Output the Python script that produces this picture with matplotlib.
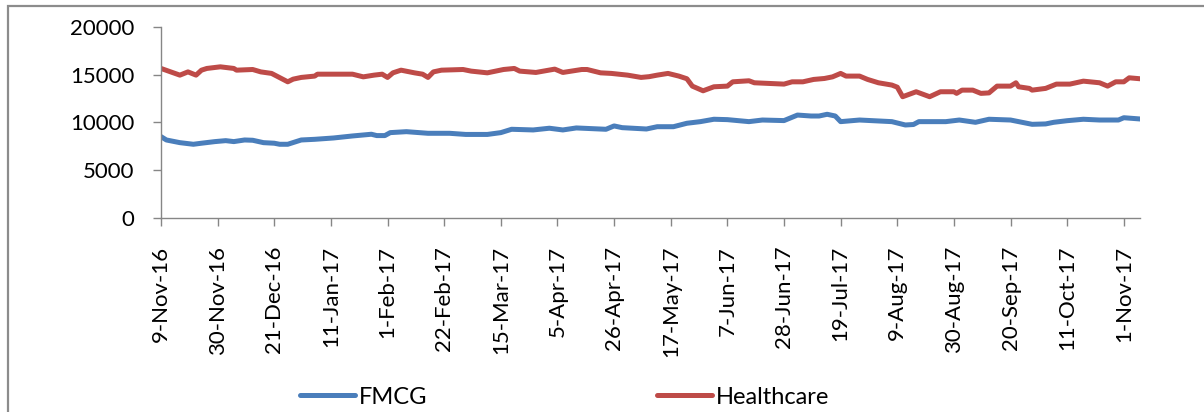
import matplotlib
matplotlib.use("Agg")
import matplotlib.pyplot as plt
import matplotlib.dates as mdates
from matplotlib.patches import Rectangle
import pandas as pd

# Healthcare index
hc_dates = ['2016-11-09', '2016-11-16', '2016-11-19', '2016-11-22', '2016-11-24', '2016-11-26',
            '2016-12-01', '2016-12-06', '2016-12-07', '2016-12-13', '2016-12-16', '2016-12-20',
            '2016-12-26', '2016-12-28', '2016-12-31', '2017-01-05', '2017-01-06', '2017-01-12',
            '2017-01-19', '2017-01-23', '2017-01-27', '2017-01-30', '2017-02-01', '2017-02-03',
            '2017-02-06', '2017-02-11', '2017-02-14', '2017-02-16', '2017-02-18', '2017-02-21',
            '2017-03-01', '2017-03-04', '2017-03-10', '2017-03-16', '2017-03-20', '2017-03-22',
            '2017-03-28', '2017-04-04', '2017-04-07', '2017-04-14', '2017-04-16', '2017-04-21',
            '2017-04-25', '2017-05-01', '2017-05-06', '2017-05-09', '2017-05-12', '2017-05-16',
            '2017-05-20', '2017-05-23', '2017-05-25', '2017-05-29', '2017-06-02', '2017-06-07',
            '2017-06-09', '2017-06-15', '2017-06-17', '2017-06-28', '2017-07-01', '2017-07-05',
            '2017-07-09', '2017-07-13', '2017-07-16', '2017-07-19', '2017-07-21', '2017-07-26',
            '2017-07-29', '2017-08-02', '2017-08-07', '2017-08-09', '2017-08-11', '2017-08-16',
            '2017-08-21', '2017-08-25', '2017-08-30', '2017-08-31', '2017-09-02', '2017-09-06',
            '2017-09-09', '2017-09-12', '2017-09-15', '2017-09-20', '2017-09-22', '2017-09-23',
            '2017-09-27', '2017-09-28', '2017-10-03', '2017-10-07', '2017-10-12', '2017-10-17',
            '2017-10-23', '2017-10-26', '2017-10-29', '2017-11-01', '2017-11-03', '2017-11-07']
hc_values = [15660, 14960, 15300, 14960, 15480, 15660,
             15830, 15660, 15480, 15550, 15300, 15140,
             14260, 14540, 14720, 14860, 15060, 15060,
             15060, 14780, 14960, 15060, 14720, 15200,
             15480, 15200, 15060, 14720, 15300, 15480,
             15550, 15380, 15200, 15550, 15660, 15380,
             15240, 15590, 15240, 15550, 15550, 15200,
             15140, 14960, 14720, 14800, 14960, 15140,
             14860, 14580, 13810, 13320, 13740, 13810,
             14260, 14370, 14160, 14020, 14260, 14260,
             14510, 14610, 14780, 15140, 14860, 14860,
             14510, 14160, 13920, 13700, 12700, 13220,
             12700, 13220, 13220, 13050, 13390, 13390,
             13050, 13100, 13810, 13810, 14160, 13740,
             13570, 13390, 13570, 14020, 14020, 14330,
             14160, 13810, 14260, 14260, 14680, 14580]

# FMCG index
fmcg_dates = ['2016-11-09', '2016-11-11', '2016-11-16', '2016-11-21', '2016-11-24', '2016-11-29',
              '2016-12-03', '2016-12-06', '2016-12-10', '2016-12-13', '2016-12-17', '2016-12-21',
              '2016-12-23', '2016-12-26', '2016-12-31', '2017-01-05', '2017-01-12', '2017-01-19',
              '2017-01-26', '2017-01-28', '2017-01-31', '2017-02-02', '2017-02-08', '2017-02-16',
              '2017-02-24', '2017-03-02', '2017-03-10', '2017-03-15', '2017-03-19', '2017-03-27',
              '2017-04-02', '2017-04-07', '2017-04-12', '2017-04-23', '2017-04-26', '2017-04-29',
              '2017-05-08', '2017-05-12', '2017-05-18', '2017-05-23', '2017-05-28', '2017-06-02',
              '2017-06-07', '2017-06-15', '2017-06-20', '2017-06-28', '2017-07-03', '2017-07-08',
              '2017-07-11', '2017-07-14', '2017-07-17', '2017-07-19', '2017-07-26', '2017-08-07',
              '2017-08-12', '2017-08-15', '2017-08-17', '2017-08-27', '2017-09-01', '2017-09-07',
              '2017-09-12', '2017-09-20', '2017-09-28', '2017-10-03', '2017-10-06', '2017-10-11',
              '2017-10-17', '2017-10-23', '2017-10-30', '2017-11-01', '2017-11-07']
fmcg_values = [8520, 8170, 7890, 7720, 7830, 8000,
               8100, 8000, 8170, 8140, 7890, 7830,
               7720, 7720, 8170, 8240, 8380, 8590,
               8770, 8630, 8630, 8940, 9040, 8870,
               8870, 8750, 8750, 8940, 9290, 9220,
               9400, 9220, 9430, 9290, 9640, 9460,
               9320, 9560, 9560, 9920, 10090, 10340,
               10300, 10090, 10260, 10200, 10780, 10680,
               10680, 10860, 10680, 10090, 10260, 10090,
               9740, 9790, 10090, 10090, 10260, 10020,
               10340, 10260, 9810, 9850, 10020, 10190,
               10340, 10260, 10260, 10500, 10370]

fmcg_x = pd.to_datetime(fmcg_dates)
hc_x = pd.to_datetime(hc_dates)

plt.rcParams['font.family'] = ['Lato', 'DejaVu Sans']
axis_grey = '#868686'

fig = plt.figure(figsize=(12.04, 4.12), dpi=100)
ax = fig.add_axes([161 / 1204, 1 - 218 / 412, (1140 - 161) / 1204, (218 - 27) / 412])

ax.plot(fmcg_x, fmcg_values, color='#4A7EBB', lw=3.6, label='FMCG', solid_capstyle='round')
ax.plot(hc_x, hc_values, color='#BE4B48', lw=3.6, label='Healthcare', solid_capstyle='round')

ax.set_xlim(fmcg_x[0], fmcg_x[-1])
ax.set_ylim(0, 20000)
ax.set_yticks(range(0, 20001, 5000))

ax.set_xticks(pd.date_range(fmcg_x[0], fmcg_x[-1], freq='21D'))
ax.xaxis.set_major_formatter(mdates.DateFormatter('%-d-%b-%y'))
plt.setp(ax.get_xticklabels(), rotation=90, ha='center', va='top')

for side in ['top', 'right']:
    ax.spines[side].set_visible(False)
for side in ['left', 'bottom']:
    ax.spines[side].set_color(axis_grey)
    ax.spines[side].set_linewidth(1.0)
ax.tick_params(axis='both', colors=axis_grey, labelcolor='black', length=6, width=1.0,
               labelsize=16)
ax.tick_params(axis='y', pad=13)
ax.tick_params(axis='x', pad=14)

leg = fig.legend(loc='center left', bbox_to_anchor=(300 / 1204, 1 - 397 / 412), ncol=2,
                 frameon=False, fontsize=17, handlelength=2.33, handletextpad=0.15,
                 columnspacing=9.75, borderaxespad=0, borderpad=0)

# chart area border (cut off at right and bottom)
fig.add_artist(Rectangle((7.5 / 1204, -0.2), 1.3, 1.2 - 6.5 / 412, transform=fig.transFigure,
                         fill=False, edgecolor='#8C8C8C', lw=1.6))

fig.savefig('out.png', dpi=100)
